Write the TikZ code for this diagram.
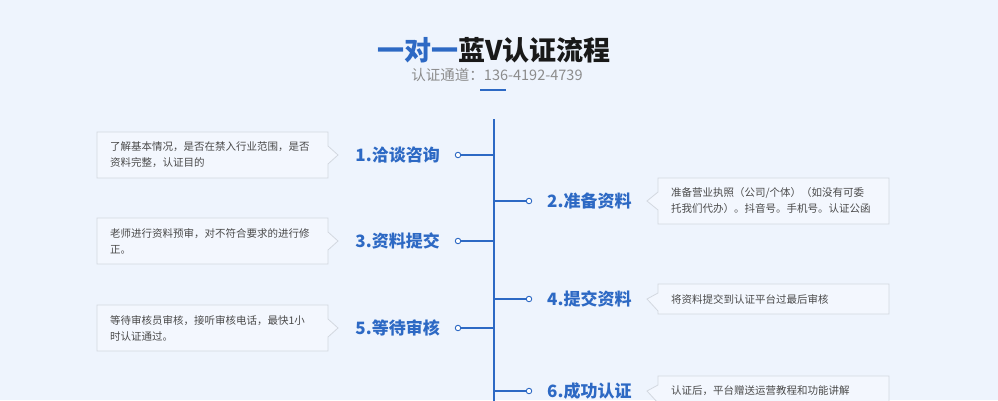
\documentclass[tikz,border=0pt]{standalone}
\usepackage{fontspec}
\usetikzlibrary{shapes.callouts}
\newfontfamily\cjk{Noto Sans CJK SC}
\definecolor{bgblue}{HTML}{EEF4FD}
\definecolor{stepblue}{HTML}{2D69C4}
\definecolor{boxline}{HTML}{D3D8E0}
\definecolor{boxfill}{HTML}{F3F7FE}
\definecolor{txtgray}{HTML}{4A4A4A}
\definecolor{subgray}{HTML}{8C8C8C}
\begin{document}
\begin{tikzpicture}[x=1pt,y=-1pt,
  steplabel/.style={font=\cjk\bfseries\fontsize{17}{20}\selectfont,text=stepblue,inner sep=0pt},
  dot/.style={circle,draw=stepblue,fill=white,line width=0.9pt,inner sep=0pt,minimum size=5.5pt},
  link/.style={stepblue,line width=1.3pt},
  note/.style={rectangle callout,draw=boxline,fill=boxfill,line width=0.8pt,
    callout pointer width=18pt,minimum width=231pt,text width=205pt,align=left,
    inner xsep=13pt,inner ysep=0pt,text=txtgray,font=\cjk\fontsize{10.5}{16}\selectfont}]
\fill[bgblue] (0,0) rectangle (998,400);
\useasboundingbox (0,0) rectangle (998,400);
% title
\node[font=\cjk\bfseries\fontsize{27}{30}\selectfont,text=black!90] (title) at (494,50)
  {{\color{stepblue}一对一}蓝V认证流程};
\node[font=\cjk\fontsize{14.5}{16}\selectfont,text=subgray] (sub) at (497,75) {认证通道：136-4192-4739};
\draw[stepblue,line width=2.6pt] (480,90) -- (506,90);
% spine
\coordinate (top) at (494,119);
\coordinate (bot) at (494,402);
\draw[link,line width=1.8pt] (top) -- (bot);
% left steps
\coordinate (j1) at (494,155);
\node[dot] (d1) at (458,155) {};
\node[steplabel,anchor=east] (s1) at (440,155) {1.洽谈咨询};
\node[note,minimum height=46pt,callout absolute pointer={(338,155)}] (n1) at (212.5,155)
  {了解基本情况，是否在禁入行业范围，是否\\资料完整，认证目的};
\coordinate (j3) at (494,241);
\node[dot] (d3) at (458,241) {};
\node[steplabel,anchor=east] (s3) at (440,241) {3.资料提交};
\node[note,minimum height=46pt,callout absolute pointer={(338,241)}] (n3) at (212.5,241)
  {老师进行资料预审，对不符合要求的进行修\\正。};
\coordinate (j5) at (494,328);
\node[dot] (d5) at (458,328) {};
\node[steplabel,anchor=east] (s5) at (440,328) {5.等待审核};
\node[note,minimum height=46pt,callout absolute pointer={(338,328)}] (n5) at (212.5,328)
  {等待审核员审核，接听审核电话，最快1小\\时认证通过。};
% right steps
\coordinate (j2) at (494,201);
\node[dot] (d2) at (529,201) {};
\node[steplabel,anchor=west] (s2) at (547,201) {2.准备资料};
\node[note,minimum height=46pt,callout absolute pointer={(647,201)}] (n2) at (773.5,201)
  {准备营业执照（公司/个体）（如没有可委\\托我们代办）。抖音号。手机号。认证公函};
\coordinate (j4) at (494,299);
\node[dot] (d4) at (529,299) {};
\node[steplabel,anchor=west] (s4) at (547,299) {4.提交资料};
\node[note,minimum height=30pt,callout absolute pointer={(647,299)}] (n4) at (773.5,299)
  {将资料提交到认证平台过最后审核};
\coordinate (j6) at (494,391);
\node[dot] (d6) at (529,391) {};
\node[steplabel,anchor=west] (s6) at (547,391) {6.成功认证};
\node[note,minimum height=30pt,callout absolute pointer={(647,391)}] (n6) at (773.5,391)
  {认证后，平台赠送运营教程和功能讲解};
% connectors
\foreach \i in {1,...,6} \draw[link] (j\i) -- (d\i);
\end{tikzpicture}
\end{document}
